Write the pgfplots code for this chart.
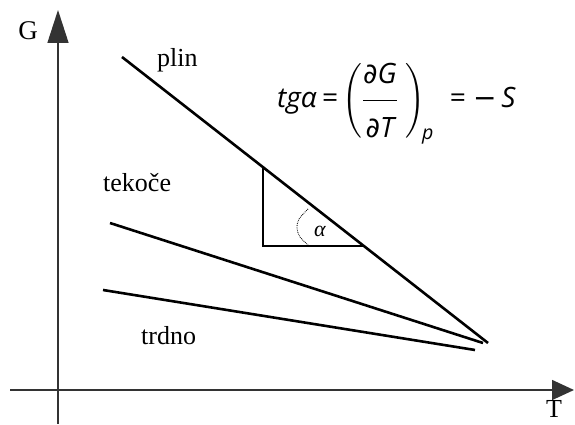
\RequirePackage{fix-cm}
\documentclass[border=0pt]{standalone}
\usepackage{amsmath}
\usepackage{fontspec}
\setmainfont{Liberation Serif}
\newfontfamily\formfont{Open Sans}
\newfontfamily\symfont{DejaVu Sans}
\usepackage{pgfplots}
\pgfplotsset{compat=1.18}
\usetikzlibrary{arrows.meta}

\newcommand{\pd}{{\symfont\itshape ∂}}

\begin{document}
\begin{tikzpicture}
\begin{axis}[
  width=575pt, height=425pt, scale only axis,
  xmin=0, xmax=575, ymin=0, ymax=425,
  hide axis, clip=false,
]
% keep the full drawing area as the bounding box
\path (axis cs:0,0) rectangle (axis cs:575,425);

% T and G axes
\addplot[line width=1.5pt, black!80, -{Triangle[length=33pt,width=21pt]}]
  coordinates {(58,1) (58,415)};
\addplot[line width=1.5pt, black!80, -{Triangle[length=22pt,width=20pt]}]
  coordinates {(10,35) (574,35)};

% G(T) for the three phases
\addplot[line width=2.6pt, black] coordinates {(122,368) (488,82)};  % plin
\addplot[line width=2.6pt, black] coordinates {(110,202) (483,82)};  % tekoce
\addplot[line width=2.6pt, black] coordinates {(103,135) (475,75)};  % trdno

% slope triangle and angle arc
\addplot[line width=1.4pt, black] coordinates {(263,258) (263,179) (364,179)};
\addplot[line width=0.8pt, black, densely dotted, smooth]
  coordinates {(308,216) (299,206) (297,197) (300,188) (308,180)};

\node[font=\fontsize{27}{30}\selectfont, anchor=base] at (axis cs:28,385) {G};
\node[font=\fontsize{26}{30}\selectfont, anchor=base] at (axis cs:554,7) {T};
\node[font=\fontsize{26}{30}\selectfont, anchor=base west, inner sep=0pt] at (axis cs:157,358) {plin};
\node[font=\fontsize{26}{30}\selectfont, anchor=base west, inner sep=0pt] at (axis cs:103,233) {tekoče};
\node[font=\fontsize{26}{30}\selectfont, anchor=base west, inner sep=0pt] at (axis cs:141,80) {trdno};
\node[font=\fontsize{22}{24}\selectfont\itshape] at (axis cs:320,194) {α};

% tg(alpha) = (dG/dT)_p = -S
\node[anchor=base west, inner sep=0pt] at (axis cs:277,317)
  {\fontsize{28}{32}\selectfont\formfont\itshape tgα\,=\,$\left(\dfrac{\rule[-14pt]{0pt}{10pt}\text{\pd G}}{\rule{0pt}{33pt}\text{\pd T}}\;\right)_{\!\text{p}}$\;\;=\;{\symfont −}\,S};
\end{axis}
\end{tikzpicture}
\end{document}
